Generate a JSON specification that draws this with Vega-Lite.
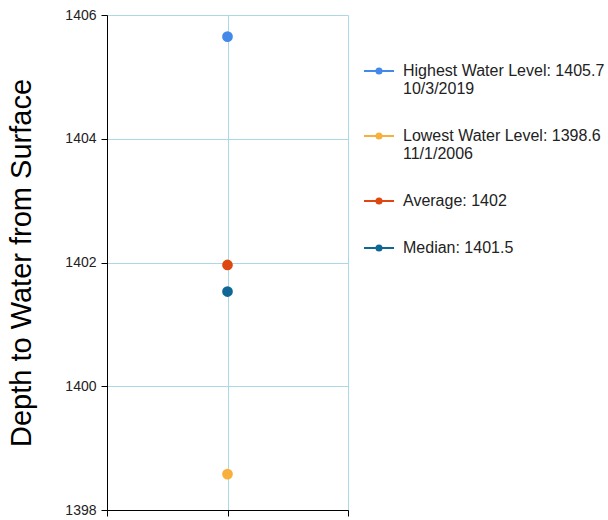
{
  "$schema": "https://vega.github.io/schema/vega-lite/v6.json",
  "width": 241,
  "height": 495,
  "autosize": {"type": "none"},
  "padding": {"left": 107, "top": 15, "right": 260, "bottom": 10},
  "background": "white",
  "config": {
    "font": "Liberation Sans",
    "view": {"stroke": null}
  },
  "data": {
    "values": [
      {"label": "Highest Water Level: 1405.7|10/3/2019", "x": 1, "value": 1405.65},
      {"label": "Lowest Water Level: 1398.6|11/1/2006", "x": 1, "value": 1398.58},
      {"label": "Average: 1402", "x": 1, "value": 1401.96},
      {"label": "Median: 1401.5", "x": 1, "value": 1401.53}
    ]
  },
  "mark": {"type": "point", "filled": true, "opacity": 1, "size": 115},
  "encoding": {
    "x": {
      "field": "x",
      "type": "quantitative",
      "scale": {"domain": [0, 2], "nice": false, "zero": false},
      "axis": {
        "values": [0, 1, 2],
        "labels": false,
        "title": null,
        "grid": true,
        "gridColor": "#add8e6",
        "gridOpacity": 1,
        "domainColor": "#000000",
        "tickColor": "#000000",
        "tickSize": 6
      }
    },
    "y": {
      "field": "value",
      "type": "quantitative",
      "scale": {"domain": [1398, 1406], "nice": false, "zero": false},
      "axis": {
        "values": [1398, 1400, 1402, 1404, 1406],
        "format": "d",
        "title": "Depth to Water from Surface",
        "titleFontSize": 29,
        "titleFontWeight": "normal",
        "titleColor": "#000000",
        "titlePadding": 28,
        "labelFontSize": 14,
        "labelColor": "#222222",
        "labelPadding": 5,
        "grid": true,
        "gridColor": "#add8e6",
        "gridOpacity": 1,
        "domainColor": "#000000",
        "tickColor": "#000000",
        "tickSize": 6
      }
    },
    "color": {
      "field": "label",
      "type": "nominal",
      "scale": {
        "domain": [
          "Highest Water Level: 1405.7|10/3/2019",
          "Lowest Water Level: 1398.6|11/1/2006",
          "Average: 1402",
          "Median: 1401.5"
        ],
        "range": ["#4389ea", "#f7b03c", "#de4810", "#0f6795"]
      },
      "legend": {
        "title": null,
        "orient": "none",
        "legendX": 256,
        "legendY": 40,
        "labelExpr": "split(datum.label, '|')",
        "labelFontSize": 16,
        "labelLineHeight": 18,
        "labelColor": "#222222",
        "labelOffset": 8,
        "labelLimit": 300,
        "rowPadding": 23,
        "symbolType": "M-1,0L1,0M-0.17,0A0.17,0.17,0,1,1,0.17,0A0.17,0.17,0,1,1,-0.17,0Z",
        "symbolSize": 900,
        "symbolStrokeWidth": 2,
        "symbolOpacity": 1,
        "encode": {
          "symbols": {
            "update": {
              "stroke": {"scale": "color", "field": "value"},
              "strokeWidth": {"value": 2}
            }
          }
        }
      }
    }
  }
}
